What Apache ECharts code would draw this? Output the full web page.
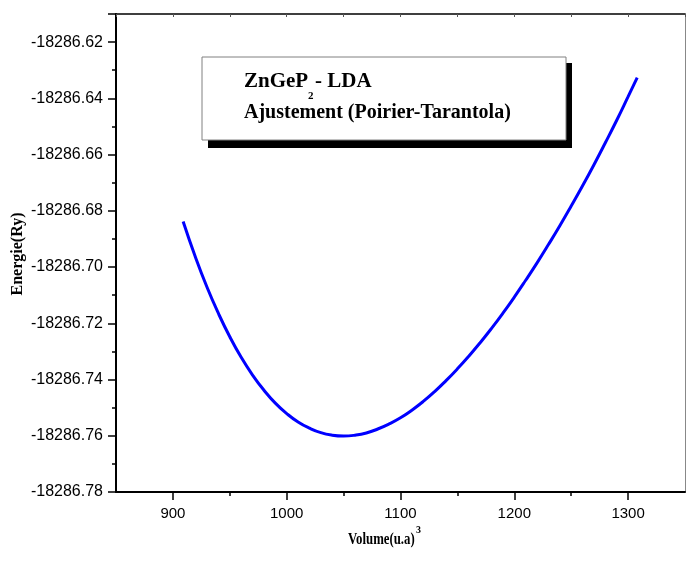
<!DOCTYPE html>
<html>
<head>
<meta charset="utf-8">
<script src="https://cdn.jsdelivr.net/npm/echarts@6/dist/echarts.min.js"></script>
<style>
html,body{margin:0;padding:0;background:#fff;}
#chart{width:686px;height:563px;}
</style>
</head>
<body>
<div id="chart"></div>
<script>
// Data
var volumes = [909, 920, 930, 940, 950, 960, 970, 980, 990, 1000, 1010, 1020, 1030, 1040, 1050, 1060, 1070, 1080, 1090, 1100, 1110, 1120, 1130, 1140, 1150, 1160, 1170, 1180, 1190, 1200, 1210, 1220, 1230, 1240, 1250, 1260, 1270, 1280, 1290, 1300, 1308];
var energies = [-18286.6838, -18286.6967, -18286.7072, -18286.7165, -18286.7248, -18286.7321, -18286.7384, -18286.7438, -18286.7484, -18286.7521, -18286.7551, -18286.7573, -18286.7589, -18286.7598, -18286.7601, -18286.7598, -18286.7590, -18286.7576, -18286.7558, -18286.7536, -18286.7509, -18286.7478, -18286.7443, -18286.7404, -18286.7362, -18286.7317, -18286.7269, -18286.7218, -18286.7164, -18286.7107, -18286.7047, -18286.6985, -18286.6920, -18286.6853, -18286.6783, -18286.6711, -18286.6636, -18286.6558, -18286.6478, -18286.6394, -18286.6326];
var xMajorTicks = [900, 1000, 1100, 1200, 1300];
var xMinorTicks = [950, 1050, 1150, 1250];
var yTickLabels = ['-18286.78', '-18286.76', '-18286.74', '-18286.72', '-18286.70', '-18286.68', '-18286.66', '-18286.64', '-18286.62'];
var legendLine1 = 'ZnGeP';
var legendSub = '2';
var legendLine1b = '- LDA';
var legendLine2 = 'Ajustement (Poirier-Tarantola)';
var xTitle = 'Volume(u.a)';
var xTitleSup = '3';
var yTitle = 'Energie(Ry)';

var points = volumes.map(function (v, i) { return [v, energies[i]]; });

var chart = echarts.init(document.getElementById('chart'), null, {renderer: 'canvas'});
var serif = '"Liberation Serif", "Times New Roman", serif';
var sans = '"Liberation Sans", Arial, sans-serif';

var option = {
  animation: false,
  backgroundColor: '#ffffff',
  grid: {left: 116, top: 14, right: 1, bottom: 71, containLabel: false, outerBoundsMode: 'none'},
  xAxis: [{
    type: 'value', min: 850, max: 1350, position: 'bottom',
    axisLine: {show: true, onZero: false, lineStyle: {color: '#000', width: 2}},
    axisTick: {show: false},
    splitLine: {show: false},
    axisLabel: {margin: 14, color: '#000', fontSize: 15, fontFamily: sans, customValues: xMajorTicks,
      formatter: function (v) { return String(v); }}
  }, {
    type: 'value', min: 850, max: 1350, interval: 50, position: 'top',
    axisLine: {show: true, onZero: false, lineStyle: {color: '#000', width: 1.5}},
    axisTick: {show: true, inside: true, length: 3, lineStyle: {color: '#555', width: 1}},
    axisLabel: {show: false}, splitLine: {show: false}
  }, {
    type: 'value', min: 850, max: 1350, position: 'bottom',
    axisLine: {show: false, onZero: false},
    axisTick: {show: true, inside: false, length: 8, customValues: xMajorTicks, lineStyle: {color: '#000', width: 1.5}},
    axisLabel: {show: false}, splitLine: {show: false}
  }, {
    type: 'value', min: 850, max: 1350, position: 'bottom',
    axisLine: {show: false, onZero: false},
    axisTick: {show: true, inside: false, length: 4, customValues: xMinorTicks, lineStyle: {color: '#000', width: 1.5}},
    axisLabel: {show: false}, splitLine: {show: false}
  }],
  yAxis: [{
    type: 'value', min: -18286.78, max: -18286.61, interval: 0.02,
    axisLine: {show: true, onZero: false, lineStyle: {color: '#000', width: 2}},
    axisTick: {show: true, inside: false, length: 8, lineStyle: {color: '#000', width: 1.5}},
    minorTick: {show: true, splitNumber: 2, length: 4, lineStyle: {color: '#000', width: 1.5}},
    splitLine: {show: false},
    axisLabel: {
      margin: 13, color: '#000', fontSize: 16, fontFamily: sans,
      formatter: function (v) {
        var s = v.toFixed(2);
        return yTickLabels.indexOf(s) >= 0 ? s : '';
      }
    }
  }, {
    type: 'value', min: -18286.78, max: -18286.61, position: 'right',
    axisLine: {show: true, onZero: false, lineStyle: {color: '#888', width: 1}},
    axisTick: {show: false}, axisLabel: {show: false}, splitLine: {show: false}
  }],
  series: [{
    type: 'line', xAxisIndex: 0, yAxisIndex: 0,
    data: points, showSymbol: false, smooth: true,
    lineStyle: {color: '#0000ff', width: 3},
    itemStyle: {color: '#0000ff'}
  }],
  graphic: [
    {type: 'rect', shape: {x: 208, y: 63, width: 364, height: 85}, style: {fill: '#000'}, z: 10},
    {type: 'rect', shape: {x: 202, y: 57, width: 364, height: 83}, style: {fill: '#fff', stroke: '#808080', lineWidth: 1}, z: 11},
    {type: 'text', x: 244, y: 82, z: 12, style: {text: legendLine1, font: 'bold 21px ' + serif, fill: '#000', verticalAlign: 'middle', align: 'left'}},
    {type: 'text', x: 308, y: 96, z: 12, style: {text: legendSub, font: 'bold 11px ' + serif, fill: '#000', verticalAlign: 'middle', align: 'left'}},
    {type: 'text', x: 315, y: 82, z: 12, style: {text: legendLine1b, font: 'bold 21px ' + serif, fill: '#000', verticalAlign: 'middle', align: 'left'}},
    {type: 'text', x: 244, y: 113, z: 12, style: {text: legendLine2, font: 'bold 20px ' + serif, fill: '#000', verticalAlign: 'middle', align: 'left'}},
    {type: 'text', x: 348, y: 540, z: 12, scaleX: 0.8, style: {text: xTitle, font: 'bold 16px ' + serif, fill: '#000', verticalAlign: 'middle', align: 'left'}},
    {type: 'text', x: 416, y: 530, z: 12, style: {text: xTitleSup, font: 'bold 10px ' + serif, fill: '#000', verticalAlign: 'middle', align: 'left'}},
    {type: 'text', x: 18, y: 254, z: 12, rotation: Math.PI / 2, style: {text: yTitle, font: 'bold 16px ' + serif, fill: '#000', verticalAlign: 'middle', align: 'center'}}
  ]
};
chart.setOption(option);
</script>
</body>
</html>
